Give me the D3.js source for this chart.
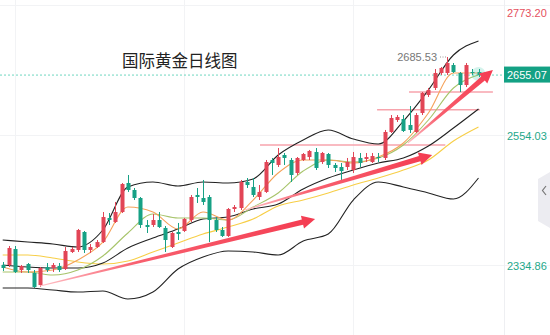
<!DOCTYPE html>
<html><head><meta charset="utf-8">
<script src="https://cdn.jsdelivr.net/npm/d3@7"></script>
<style>body{margin:0;background:#fff}svg{display:block}</style>
</head><body>
<svg id="chart" width="550" height="335"></svg>
<script>
// ---- Data (daily candles, index 0..76) ----
const open  = [2334.9,2334.9,2361.8,2326.4,2336.5,2321.4,2301.1,2331.5,2329.8,2333.2,
               2328.1,2356.8,2360.2,2390.5,2360.2,2365.2,2373.6,2414.1,2407.4,2424.2,
               2473.1,2461.3,2447.8,2402.3,2402.3,2410.7,2397.3,2365.2,2390.5,2392.2,
               2410.7,2452.9,2447.8,2449.5,2410.7,2393.9,2383.8,2429.3,2430.9,2474.8,
               2466.4,2449.5,2458.0,2511.9,2503.5,2520.3,2511.9,2490.0,2511.9,2516.9,
               2525.4,2508.5,2522.0,2503.5,2500.1,2500.1,2495.0,2515.3,2513.6,2508.5,
               2516.9,2515.3,2559.1,2579.3,2581.0,2570.9,2559.1,2591.1,2621.5,2633.3,
               2658.6,2658.6,2672.0,2658.6,2638.3,2660.2,2660.2];
const high  = [2339.9,2366.9,2366.9,2334.9,2338.2,2326.4,2331.5,2338.2,2338.2,2338.2,
               2365.2,2365.2,2395.6,2392.2,2370.3,2377.0,2424.2,2422.5,2441.1,2473.1,
               2486.6,2464.7,2449.5,2410.7,2420.8,2424.2,2400.6,2390.5,2405.7,2414.1,
               2452.9,2464.7,2478.2,2452.9,2415.8,2398.9,2430.9,2436.0,2478.2,2481.5,
               2481.5,2469.7,2511.9,2515.3,2532.1,2523.7,2515.3,2516.9,2523.7,2528.8,
               2532.1,2525.4,2523.7,2506.8,2506.8,2515.3,2525.4,2523.7,2523.7,2523.7,
               2523.7,2562.5,2587.7,2587.7,2587.7,2602.9,2591.1,2626.5,2633.3,2665.3,
               2668.7,2685.53,2675.4,2660.2,2675.4,2665.3,2665.3];
const low   = [2324.8,2331.5,2321.4,2321.4,2321.4,2296.1,2297.8,2323.1,2323.1,2323.1,
               2326.4,2355.1,2356.8,2355.1,2355.1,2363.5,2372.0,2402.3,2405.7,2422.5,
               2458.0,2444.4,2397.3,2388.8,2398.9,2397.3,2356.8,2363.5,2377.0,2390.5,
               2407.4,2439.4,2436.0,2373.6,2390.5,2382.1,2382.1,2424.2,2427.6,2464.7,
               2449.5,2444.4,2456.3,2486.6,2500.1,2503.5,2474.8,2486.6,2510.2,2511.9,
               2495.0,2505.2,2498.4,2491.7,2478.2,2495.0,2490.0,2500.1,2508.5,2506.8,
               2508.5,2511.9,2557.4,2575.9,2559.1,2557.4,2557.4,2587.7,2618.1,2629.9,
               2655.2,2655.2,2658.6,2626.5,2634.9,2655.2,2651.8];
const close = [2329.8,2363.5,2323.1,2333.2,2326.4,2297.8,2329.8,2326.4,2334.9,2326.4,
               2358.5,2361.8,2393.9,2360.2,2365.2,2373.6,2415.8,2410.7,2424.2,2471.4,
               2461.3,2447.8,2402.3,2398.9,2410.7,2398.9,2377.0,2388.8,2387.1,2412.4,
               2449.5,2449.5,2441.1,2410.7,2393.9,2383.8,2429.3,2432.6,2474.8,2469.7,
               2452.9,2458.0,2508.5,2506.8,2516.9,2515.3,2486.6,2515.3,2522.0,2527.1,
               2498.4,2523.7,2503.5,2498.4,2493.3,2508.5,2516.9,2506.8,2516.9,2518.6,
               2515.3,2559.1,2582.7,2584.4,2560.8,2562.5,2587.7,2624.8,2629.9,2658.6,
               2667.0,2675.4,2660.2,2638.3,2672.0,2658.6,2655.07];

const lineIdx  = [0,4,8,12,16,20,24,28,32,36,40,44,48,52,56,60,64,68,72,76];
const bollUp   = [2377.0,2373.6,2370.3,2365.2,2393.9,2466.4,2474.8,2468.1,2474.8,2473.1,2479.9,2520.3,2545.6,2562.5,2547.3,2538.9,2577.6,2629.9,2688.9,2712.5];
const bollMid  = [2334.9,2331.5,2329.8,2329.8,2338.2,2363.5,2380.4,2395.6,2412.4,2415.8,2429.3,2437.7,2463.0,2481.5,2495.0,2506.8,2515.3,2535.5,2565.8,2597.9];
const bollLow  = [2296.1,2296.1,2292.7,2289.3,2291.0,2277.5,2289.3,2328.1,2348.4,2358.5,2356.8,2351.7,2375.3,2387.1,2444.4,2474.8,2466.4,2456.3,2446.1,2481.5];
const maYellow = [2351.7,2351.7,2346.7,2339.9,2336.5,2341.6,2356.8,2372.0,2387.1,2398.9,2412.4,2434.3,2444.4,2456.3,2469.7,2481.5,2495.0,2511.9,2543.9,2567.5];
const maOrange = [2331.5,2323.1,2326.4,2343.3,2373.6,2432.6,2424.2,2395.6,2424.2,2410.7,2444.4,2490.0,2511.9,2511.9,2506.8,2516.9,2540.5,2591.1,2658.6,2658.6];
const maOlive  = [2323.1,2323.1,2318.0,2326.4,2350.0,2388.8,2420.8,2414.1,2414.1,2410.7,2432.6,2456.3,2493.3,2511.9,2508.5,2515.3,2537.2,2579.3,2633.3,2655.2];

const axisTicks   = [2773.20, 2554.03, 2334.86];
const lastPrice   = 2655.07;
const highLabel   = 2685.53, highIdx = 71;
const gridIdx     = [2, 29, 56];
const title       = "国际黄金日线图";
// support / resistance lines: [price, fromIdx, toIdx]
const levels = [[2537.2, 41.1, 70.7], [2596.6, 59.8, 76.2], [2626.6, 64.9, 78.3]];
// trend arrows: [fromIdx, fromPrice, toIdx, toPrice]
const arrows = [[5.96, 2299.5, 49.9, 2412.4], [38.7, 2427.6, 68.6, 2520.3], [64.7, 2540.5, 78.3, 2663.6]];

// ---- Drawing ----
const W = 550, H = 335, plotR = 504;
const svg = d3.select("#chart");
const x = d3.scaleLinear().domain([0, 76]).range([2.7, 478.5]);
const y = d3.scaleLinear().domain([2334.86, 2773.20]).range([265, 5]);

const UP = "#e24556", DOWN = "#17a185";
const defs = svg.append("defs");

// grid
svg.append("g").selectAll("line").data(axisTicks).join("line")
  .attr("x1", 0).attr("x2", W).attr("y1", d => Math.round(y(d)) + 0.5).attr("y2", d => Math.round(y(d)) + 0.5)
  .attr("stroke", "#f2f3f5").attr("stroke-width", 1);
svg.append("g").selectAll("line").data(gridIdx).join("line")
  .attr("x1", d => Math.round(x(d)) + 0.5).attr("x2", d => Math.round(x(d)) + 0.5)
  .attr("y1", 0).attr("y2", H).attr("stroke", "#f2f3f5");
svg.append("line").attr("x1", plotR + 0.5).attr("x2", plotR + 0.5).attr("y1", 0).attr("y2", H)
  .attr("stroke", "#eeeff2");

// title
svg.append("text").attr("x", 122).attr("y", 67).text(title)
  .attr("font-family", "'Noto Sans CJK SC', sans-serif").attr("font-size", 16.5).attr("fill", "#222");

// current price dotted line
svg.append("line").attr("x1", 0).attr("x2", plotR).attr("y1", y(lastPrice)).attr("y2", y(lastPrice))
  .attr("stroke", "#6fd6bf").attr("stroke-width", 1).attr("stroke-dasharray", "2,2");

// level lines
svg.append("g").selectAll("line").data(levels).join("line")
  .attr("x1", d => x(d[1])).attr("x2", d => x(d[2]))
  .attr("y1", d => y(d[0])).attr("y2", d => y(d[0]))
  .attr("stroke", "#f7a3ac").attr("stroke-width", 1.6);

// indicator lines
const lineGen = vals => d3.line().curve(d3.curveMonotoneX)
  .x((d, i) => x(lineIdx[i])).y(d => y(d))(vals);
[[maYellow, "#f7ce46", 1.1], [bollLow, "#222", 1.1], [bollMid, "#222", 1.1], [bollUp, "#222", 1.1],
 [maOlive, "#a7c46a", 1.1], [maOrange, "#f5a25a", 1.1]].forEach(([vals, col, w]) => {
  svg.append("path").attr("d", lineGen(vals)).attr("fill", "none")
    .attr("stroke", col).attr("stroke-width", w);
});

// candles
const idx = d3.range(open.length);
const cg = svg.append("g");
cg.selectAll("line").data(idx).join("line")
  .attr("x1", i => Math.round(x(i)) + 0.5).attr("x2", i => Math.round(x(i)) + 0.5)
  .attr("y1", i => y(high[i])).attr("y2", i => y(low[i]))
  .attr("stroke", i => close[i] >= open[i] ? UP : DOWN).attr("stroke-width", 1);
cg.selectAll("rect").data(idx).join("rect")
  .attr("x", i => Math.round(x(i)) - 1.5).attr("width", 4)
  .attr("y", i => y(Math.max(open[i], close[i])))
  .attr("height", i => Math.max(1, Math.abs(y(open[i]) - y(close[i]))))
  .attr("fill", i => close[i] >= open[i] ? UP : DOWN);

// last candle glow
svg.append("circle").attr("cx", x(76)).attr("cy", y(close[76]) - 1).attr("r", 7)
  .attr("fill", "rgba(60,200,170,0.22)");

// arrows
arrows.forEach((a, k) => {
  const ax = x(a[0]), ay = y(a[1]), tx = x(a[2]), ty = y(a[3]);
  const dx = tx - ax, dy = ty - ay, len = Math.hypot(dx, dy);
  const ux = dx / len, uy = dy / len, nx = -uy, ny = ux;
  const headL = 13, headW = 13, w0 = 1.2, w1 = 5.5;
  const bx = tx - ux * headL, by = ty - uy * headL;
  const pts = [[ax + nx * w0 / 2, ay + ny * w0 / 2], [bx + nx * w1 / 2, by + ny * w1 / 2],
    [bx + nx * headW / 2, by + ny * headW / 2], [tx, ty], [bx - nx * headW / 2, by - ny * headW / 2],
    [bx - nx * w1 / 2, by - ny * w1 / 2], [ax - nx * w0 / 2, ay - ny * w0 / 2]];
  const g = defs.append("linearGradient").attr("id", "ag" + k).attr("gradientUnits", "userSpaceOnUse")
    .attr("x1", ax).attr("y1", ay).attr("x2", tx).attr("y2", ty);
  g.append("stop").attr("offset", 0).attr("stop-color", "#ffc0c6");
  g.append("stop").attr("offset", 0.35).attr("stop-color", "#f8606f");
  g.append("stop").attr("offset", 1).attr("stop-color", "#f43c51");
  svg.append("polygon").attr("points", pts.map(p => p.join(",")).join(" "))
    .attr("fill", `url(#ag${k})`);
});

// high label
svg.append("text").attr("x", 437).attr("y", y(highLabel) + 4).attr("text-anchor", "end")
  .text(highLabel.toFixed(2)).attr("font-family", "'Liberation Sans', Arial, sans-serif")
  .attr("font-size", 11).attr("fill", "#777");
svg.append("line").attr("x1", 440).attr("x2", x(highIdx) - 1).attr("y1", y(highLabel)).attr("y2", y(highLabel))
  .attr("stroke", "#999").attr("stroke-dasharray", "1,1.5");

// axis labels
const axG = svg.append("g").attr("font-family", "'Liberation Sans', Arial, sans-serif").attr("font-size", 11);
axisTicks.forEach((t, i) => {
  const yy = i === 0 ? y(t) + 12 : y(t) + 5;
  axG.append("text").attr("x", 507).attr("y", yy).text(t.toFixed(2))
    .attr("fill", i === 0 ? "#e5505e" : "#1ea88a");
});
svg.append("rect").attr("x", 504).attr("y", y(lastPrice) - 8.5).attr("width", 46).attr("height", 16)
  .attr("fill", "#13a184");
svg.append("text").attr("x", 507).attr("y", y(lastPrice) + 4).text(lastPrice.toFixed(2))
  .attr("font-family", "'Liberation Sans', Arial, sans-serif").attr("font-size", 11).attr("fill", "#fff");

// side panel tab
svg.append("polygon").attr("points", "550,172 538,179 538,221 550,228").attr("fill", "#ececf1");
svg.append("path").attr("d", "M546,186 L542.5,190.5 L546,195").attr("fill", "none")
  .attr("stroke", "#777").attr("stroke-width", 1.2);
</script>
</body></html>
